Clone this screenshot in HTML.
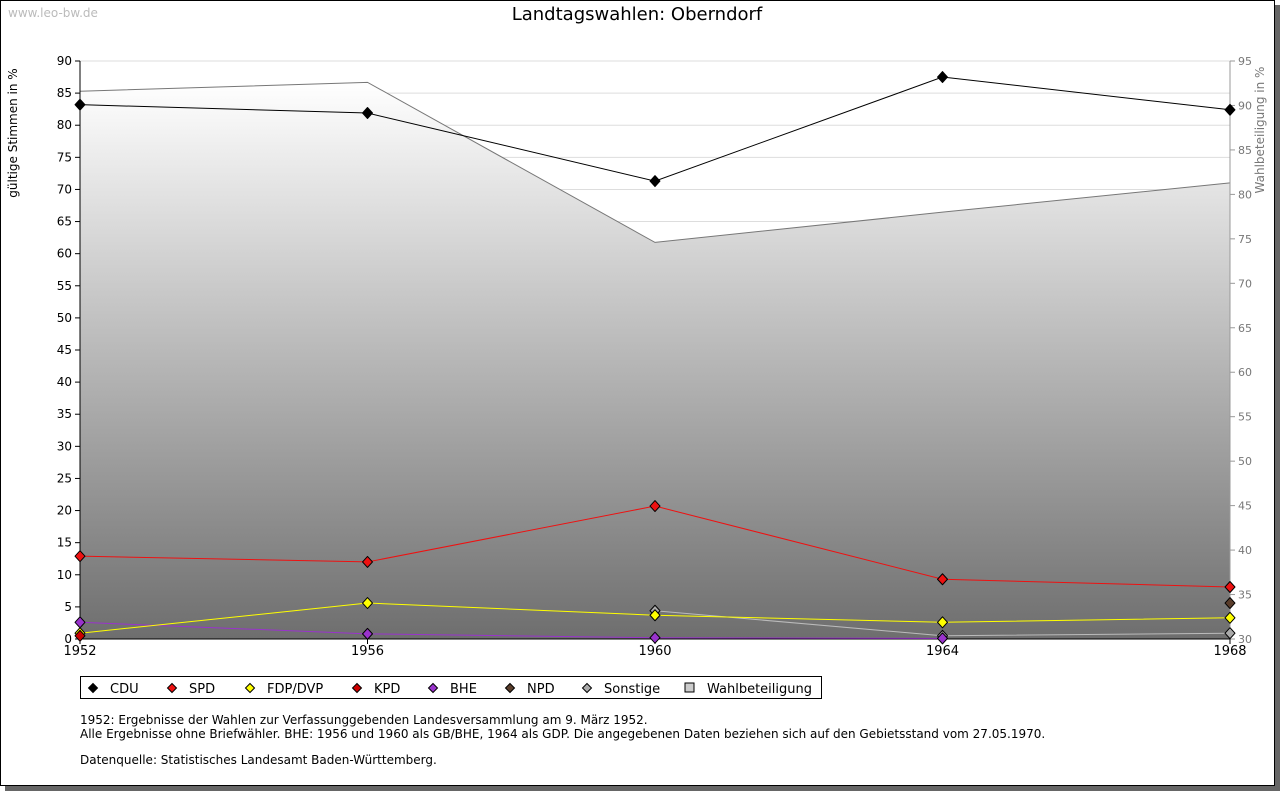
<!DOCTYPE html>
<html><head><meta charset="utf-8"><style>
body{margin:0;width:1280px;height:791px;background:#fff;overflow:hidden;font-family:"DejaVu Sans","Liberation Sans",sans-serif}
#frame{position:absolute;left:0;top:0;width:1273px;height:784px;border:1px solid #000;box-shadow:5px 5px 0 #666;background:#fff}
svg{position:absolute;left:0;top:0}
</style></head><body>
<div id="frame"></div>
<svg id="c" width="1280" height="791" font-family="DejaVu Sans, Liberation Sans, sans-serif"></svg>
<script>
const years=[1952,1956,1960,1964,1968];
const cdu=[83.2,81.9,71.3,87.5,82.4];
const spd=[12.9,12.0,20.7,9.3,8.1];
const fdp=[0.9,5.6,3.7,2.6,3.3];
const kpd=[0.5,null,null,null,null];
const bhe=[2.6,0.8,0.2,0.1,null];
const npd=[null,null,null,null,5.6];
const sonst=[null,null,4.4,0.5,0.9];
const turnout=[91.6,92.6,74.6,78.0,81.3];
const leftTicks=[0,5,10,15,20,25,30,35,40,45,50,55,60,65,70,75,80,85,90];
const rightTicks=[30,35,40,45,50,55,60,65,70,75,80,85,90,95];
const legendLabels=["CDU","SPD","FDP/DVP","KPD","BHE","NPD","Sonstige","Wahlbeteiligung"];

const X0=80,X1=1230,YB=639,YT=61;
const xs=y=>X0+(y-1952)/16*(X1-X0);
const yl=v=>YB-v/90*(YB-YT);
const yr=v=>YB-(v-30)/65*(YB-YT);
const svg=document.getElementById('c');const NS='http://www.w3.org/2000/svg';
function el(t,a,p){const e=document.createElementNS(NS,t);for(const k in a)e.setAttribute(k,a[k]);(p||svg).appendChild(e);return e;}
const defs=el('defs',{});
const g=el('linearGradient',{id:'gr',x1:0,y1:0,x2:0,y2:1},defs);
el('stop',{offset:0,'stop-color':'#ffffff'},g);el('stop',{offset:1,'stop-color':'#6e6e6e'},g);
let t=el('text',{x:8,y:17,'font-size':12,fill:'#bbb'});t.textContent='www.leo-bw.de';

t=el('text',{x:637,y:20,'font-size':18,'text-anchor':'middle',fill:'#000'});t.textContent='Landtagswahlen: Oberndorf';

// grid (under area)
leftTicks.forEach(v=>{const y=yl(v);
 let l=el('line',{x1:X0,x2:X1,y1:y,y2:y,stroke:'#ddd'});
 el('line',{x1:X0-5,x2:X0,y1:y,y2:y,stroke:'#000'});
 let tt=el('text',{x:X0-8,y:y+4,'font-size':12,'text-anchor':'end'});tt.textContent=v;});
// area
let d='M'+xs(years[0])+','+YB;years.forEach((y,i)=>d+=' L'+xs(y)+','+yr(turnout[i]));d+=' L'+xs(years[4])+','+YB+' Z';
let a=el('path',{d:d,fill:'url(#gr)',stroke:'none'});

rightTicks.forEach(v=>{const y=yr(v);
 el('line',{x1:X1,x2:X1+5,y1:y,y2:y,stroke:'#999'});
 let tt=el('text',{x:X1+8,y:y+4,'font-size':11,fill:'#777'});tt.textContent=v;});
let tl=el('path',{d:'M'+xs(years[0])+','+yr(turnout[0])+years.map((y,i)=>' L'+xs(y)+','+yr(turnout[i])).join(''),fill:'none',stroke:'#777','stroke-width':1});

el('line',{x1:X0,x2:X0,y1:YT,y2:YB,stroke:'#000'});
el('line',{x1:X1,x2:X1,y1:YT,y2:YB,stroke:'#999'});
el('line',{x1:X0,x2:X1,y1:YB,y2:YB,stroke:'#000'});
years.forEach(y=>{el('line',{x1:xs(y),x2:xs(y),y1:YB,y2:YB+5,stroke:'#000'});
 let tt=el('text',{x:xs(y),y:YB+16,'font-size':13,'text-anchor':'middle'});tt.textContent=y;});
t=el('text',{transform:'translate(17,133) rotate(-90)','font-size':12,'text-anchor':'middle'});t.textContent='gültige Stimmen in %';

t=el('text',{transform:'translate(1264,130) rotate(-90)','font-size':12,'text-anchor':'middle',fill:'#777'});t.textContent='Wahlbeteiligung in %';

function series(vals,color,line,name){
 let pts=[];vals.forEach((v,i)=>{if(v!==null)pts.push([xs(years[i]),yl(v)]);});
 if(pts.length>1){let p=el('polyline',{points:pts.map(p=>p.join(',')).join(' '),fill:'none',stroke:line,'stroke-width':1});
  }
 pts.forEach(p=>{let m=el('path',{d:`M${p[0]},${p[1]-5.5} L${p[0]+5},${p[1]} L${p[0]},${p[1]+5.5} L${p[0]-5},${p[1]} Z`,fill:color,stroke:'#000','stroke-width':1,'stroke-linejoin':'round'});
  });
}
series(sonst,'#aaa','#bbb','sonstige');
series(bhe,'#9933cc','#9933cc','bhe');
series(fdp,'#ffff00','#ffff00','fdp');
series(kpd,'#cc0000','#cc0000','kpd');
series(npd,'#5a3d2b','#5a3d2b','npd');
series(spd,'#ee1111','#ee1111','spd');
series(cdu,'#000','#000','cdu');
// legend
let lg=el('rect',{x:80.5,y:676.5,width:741,height:22,fill:'#fff',stroke:'#000'});

const lcol=['#000','#ee1111','#ffff00','#cc0000','#9933cc','#5a3d2b','#aaa','#ccc'];
const lx=[93,172,250,357,433,510,587,690];
legendLabels.forEach((s,i)=>{const x=lx[i],y=688;
 if(i<7)el('path',{d:`M${x},${y-4.5} L${x+4.5},${y} L${x},${y+4.5} L${x-4.5},${y} Z`,fill:lcol[i],stroke:'#000'});
 else el('rect',{x:x-5,y:y-5,width:9,height:9,fill:'#ccc',stroke:'#000'});
 let tt=el('text',{x:x+17,y:y+5,'font-size':13});tt.textContent=s;});
[['1952: Ergebnisse der Wahlen zur Verfassunggebenden Landesversammlung am 9. März 1952.',724],
 ['Alle Ergebnisse ohne Briefwähler. BHE: 1956 und 1960 als GB/BHE, 1964 als GDP. Die angegebenen Daten beziehen sich auf den Gebietsstand vom 27.05.1970.',738],
 ['Datenquelle: Statistisches Landesamt Baden-Württemberg.',764]].forEach(n=>{
 let tt=el('text',{x:80,y:n[1],'font-size':12});tt.textContent=n[0];});
</script>
</body></html>
